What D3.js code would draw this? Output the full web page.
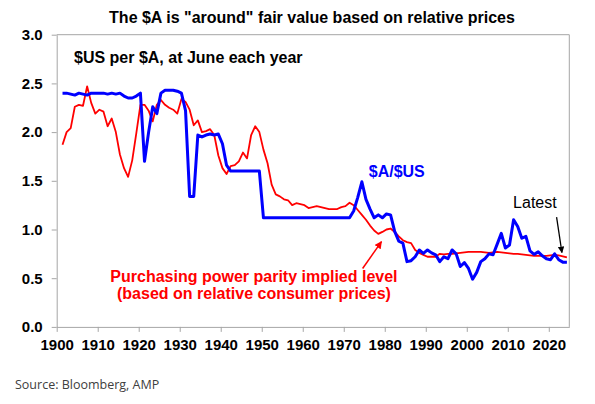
<!DOCTYPE html>
<html>
<head>
<meta charset="utf-8">
<script src="https://cdn.jsdelivr.net/npm/d3@7"></script>
<style>
  body { margin: 0; background: #fff; }
  svg text { font-family: "Liberation Sans", Arial, sans-serif; }
  .axis path, .axis line { stroke: #a6a6a6; }
  .axis text { font-size: 15px; font-weight: bold; fill: #000; }
</style>
</head>
<body>
<div id="chart"></div>
<script>
// June each year, 1901-2024
const firstYear = 1901;

// $A/$US exchange rate
const audUsd = [
  2.40, 2.40, 2.39, 2.38, 2.40, 2.39, 2.38, 2.40, 2.40, 2.40,
  2.40, 2.39, 2.40, 2.39, 2.40, 2.37, 2.35, 2.35, 2.37, 2.40,
  1.70, 2.00, 2.26, 2.19, 2.40, 2.43, 2.43, 2.43, 2.42, 2.40,
  2.22, 1.34, 1.34, 1.97, 1.95, 1.97, 1.98, 1.97, 1.98, 1.88,
  1.66, 1.60, 1.60, 1.60, 1.60, 1.60, 1.60, 1.60, 1.60, 1.12,
  1.12, 1.12, 1.12, 1.12, 1.12, 1.12, 1.12, 1.12, 1.12, 1.12,
  1.12, 1.12, 1.12, 1.12, 1.12, 1.12, 1.12, 1.12, 1.12, 1.12,
  1.12, 1.19, 1.33, 1.49, 1.31, 1.21, 1.12, 1.15, 1.12, 1.16,
  1.15, 0.98, 0.88, 0.86, 0.67, 0.68, 0.72, 0.79, 0.755, 0.79,
  0.76, 0.74, 0.67, 0.72, 0.70, 0.79, 0.75, 0.62, 0.66, 0.60,
  0.49, 0.56, 0.67, 0.70, 0.75, 0.74, 0.85, 0.96, 0.81, 0.84,
  1.10, 1.03, 0.91, 0.93, 0.78, 0.745, 0.77, 0.73, 0.70, 0.69,
  0.75, 0.69, 0.665, 0.665
];

// Purchasing power parity implied level
const ppp = [
  1.87, 2.00, 2.04, 2.26, 2.28, 2.27, 2.47, 2.30, 2.19, 2.23,
  2.21, 2.06, 2.14, 2.00, 1.77, 1.63, 1.54, 1.71, 1.99, 2.28,
  2.28, 2.22, 2.11, 2.28, 2.33, 2.28, 2.25, 2.23, 2.19, 2.34,
  2.31, 2.23, 2.07, 2.12, 2.00, 2.01, 2.03, 1.97, 1.76, 1.63,
  1.57, 1.65, 1.66, 1.70, 1.79, 1.73, 1.97, 2.06, 2.00, 1.82,
  1.68, 1.46, 1.36, 1.34, 1.31, 1.30, 1.25, 1.27, 1.26, 1.25,
  1.22, 1.23, 1.24, 1.23, 1.22, 1.21, 1.21, 1.21, 1.23, 1.24,
  1.275, 1.25, 1.20, 1.15, 1.10, 1.04, 0.99, 0.955, 0.975, 1.00,
  1.01, 0.975, 0.93, 0.89, 0.87, 0.86, 0.79, 0.76, 0.74, 0.72,
  0.72, 0.72, 0.75, 0.745, 0.75, 0.75, 0.755, 0.76, 0.765, 0.77,
  0.77, 0.77, 0.77, 0.765, 0.76, 0.765, 0.77, 0.765, 0.76, 0.755,
  0.75, 0.75, 0.745, 0.74, 0.735, 0.73, 0.73, 0.73, 0.73, 0.735,
  0.74, 0.735, 0.725, 0.715
];

const xTicks = [1900, 1910, 1920, 1930, 1940, 1950, 1960, 1970, 1980, 1990, 2000, 2010, 2020];
const yTicks = [0, 0.5, 1.0, 1.5, 2.0, 2.5, 3.0];

const W = 595, H = 404;
const margin = { top: 34.7, right: 25.7, bottom: 77.1, left: 56.7 };

const svg = d3.select("#chart")
    .append("svg")
    .attr("width", W)
    .attr("height", H);

const x = d3.scaleLinear()
    .domain([1900, 2025])
    .range([margin.left, W - margin.right]);

const y = d3.scaleLinear()
    .domain([0, 3])
    .range([H - margin.bottom, margin.top]);

// June value sits part way through the year
const junePos = (d, i) => x(firstYear + i + 5 / 12);

// frame: top and right
svg.append("line")
    .attr("x1", x(1900)).attr("x2", x(2025))
    .attr("y1", y(3)).attr("y2", y(3))
    .attr("stroke", "#a6a6a6");
svg.append("line")
    .attr("x1", x(2025)).attr("x2", x(2025))
    .attr("y1", y(3)).attr("y2", y(0))
    .attr("stroke", "#a6a6a6");

svg.append("g")
    .attr("class", "axis")
    .attr("transform", "translate(" + x(1900) + ",0)")
    .call(d3.axisLeft(y)
        .tickValues(yTicks)
        .tickFormat(d3.format(".1f"))
        .tickSize(5)
        .tickSizeOuter(0)
        .tickPadding(9));

svg.append("g")
    .attr("class", "axis")
    .attr("transform", "translate(0," + y(0) + ")")
    .call(d3.axisBottom(x)
        .tickValues(xTicks)
        .tickFormat(d3.format("d"))
        .tickSize(5)
        .tickSizeOuter(0)
        .tickPadding(7));

// lines
svg.append("path")
    .datum(ppp)
    .attr("fill", "none")
    .attr("stroke", "#ff0000")
    .attr("stroke-width", 1.8)
    .attr("stroke-linejoin", "round")
    .attr("d", d3.line().x(junePos).y(d => y(d)));

svg.append("path")
    .datum(audUsd)
    .attr("fill", "none")
    .attr("stroke", "#0000ff")
    .attr("stroke-width", 3)
    .attr("stroke-linejoin", "round")
    .attr("d", d3.line().x(junePos).y(d => y(d)));

// arrowheads
const defs = svg.append("defs");
[["head-red", "#ff0000"], ["head-black", "#000"]].forEach(([id, c]) => {
    defs.append("marker")
        .attr("id", id)
        .attr("viewBox", "0 0 10 10")
        .attr("refX", 9).attr("refY", 5)
        .attr("markerWidth", 5).attr("markerHeight", 5)
        .attr("orient", "auto")
        .append("path")
        .attr("d", "M0,0L10,5L0,10z")
        .attr("fill", c);
});

svg.append("line")
    .attr("x1", x(1974.6)).attr("y1", y(0.60))
    .attr("x2", x(1979.2)).attr("y2", y(0.875))
    .attr("stroke", "#ff0000")
    .attr("stroke-width", 1.5)
    .attr("marker-end", "url(#head-red)");

svg.append("line")
    .attr("x1", x(2021.9)).attr("y1", y(1.128))
    .attr("x2", x(2023.2)).attr("y2", y(0.764))
    .attr("stroke", "#000")
    .attr("stroke-width", 1.3)
    .attr("marker-end", "url(#head-black)");

// texts
svg.append("text")
    .attr("x", 312).attr("y", 23)
    .attr("text-anchor", "middle")
    .attr("font-size", 16).attr("font-weight", "bold")
    .text('The $A is "around" fair value based on relative prices');

svg.append("text")
    .attr("x", 74).attr("y", 63)
    .attr("font-size", 16).attr("font-weight", "bold")
    .text("$US per $A, at June each year");

svg.append("text")
    .attr("x", x(1976.1)).attr("y", y(1.54))
    .attr("font-size", 16).attr("font-weight", "bold")
    .attr("fill", "#0000ff")
    .text("$A/$US");

svg.append("text")
    .attr("x", x(2011.3)).attr("y", y(1.22))
    .attr("font-size", 16)
    .text("Latest");

const pppLabel = svg.append("text")
    .attr("text-anchor", "middle")
    .attr("font-size", 16).attr("font-weight", "bold")
    .attr("fill", "#ff0000");
pppLabel.append("tspan")
    .attr("x", x(1948.1)).attr("y", y(0.46))
    .text("Purchasing power parity implied level");
pppLabel.append("tspan")
    .attr("x", x(1948.1)).attr("y", y(0.285))
    .text("(based on relative consumer prices)");

svg.append("text")
    .attr("x", 15).attr("y", 389)
    .attr("font-size", 12.5)
    .attr("fill", "#404040")
    .style("font-family", "'Open Sans', sans-serif")
    .text("Source: Bloomberg, AMP");
</script>
</body>
</html>
